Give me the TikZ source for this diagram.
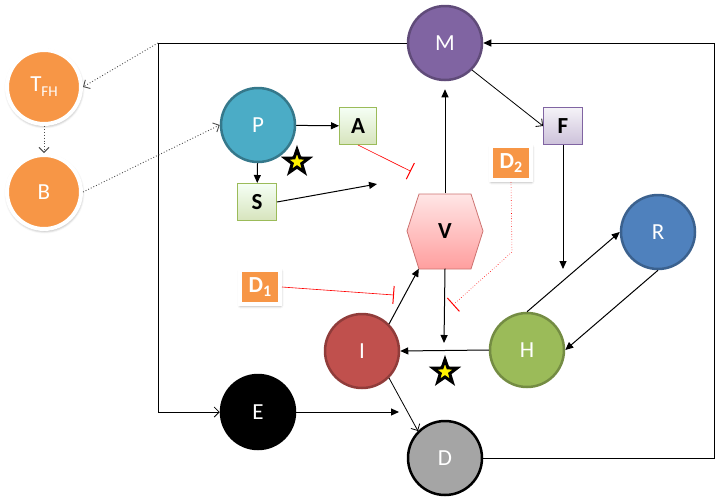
\documentclass[tikz,border=0pt]{standalone}
\usepackage{fontspec}
\setmainfont{Carlito}
\usetikzlibrary{calc,positioning,shapes,arrows.meta,shadows,shadows.blur}

\definecolor{orng}{HTML}{F79646}
\definecolor{tealP}{HTML}{4BACC6}
\definecolor{purpM}{HTML}{8064A2}
\definecolor{blueR}{HTML}{4F81BD}
\definecolor{greenH}{HTML}{9BBB59}
\definecolor{redI}{HTML}{C0504D}
\definecolor{grayD}{HTML}{A5A5A5}

\begin{document}
\begin{tikzpicture}
[x=1pt,y=-1pt,
circ/.style={circle,minimum size=74pt,inner sep=0pt,line width=2.5pt,
	text=white,font=\fontsize{23}{26}\selectfont},
orcirc/.style={circ,fill=orng,draw=white,line width=4pt,
	blur shadow={shadow blur radius=3pt,shadow xshift=0.5pt,shadow yshift=-1.5pt,shadow opacity=50}},
greenbox/.style={rectangle,minimum width=37pt,minimum height=37pt,inner sep=0pt,
	top color=green!4!white,bottom color=greenH!40!white,draw=greenH,line width=1pt,
	font=\bfseries\fontsize{23}{26}\selectfont},
purpbox/.style={greenbox,top color=purpM!8!white,bottom color=purpM!40!white,draw=purpM},
orbox/.style={rectangle,minimum width=40pt,minimum height=34pt,inner sep=0pt,
	fill=orng,draw=white,line width=4pt,text=white,
	font=\bfseries\fontsize{23}{26}\selectfont,
	blur shadow={shadow blur radius=3pt,shadow xshift=0.5pt,shadow yshift=-1.5pt,shadow opacity=50}},
yellowstar/.style={star,star points=5,star point ratio=2.5,fill=yellow,draw=black,
	line width=3pt,minimum size=25pt,inner sep=0pt},
flow/.style={line width=1pt,-{Triangle[length=8pt,width=7pt]}},
openflow/.style={line width=0.8pt,-{Straight Barb[length=5pt,width=10pt]}},
dotflow/.style={dotted,line width=0.9pt,black!70,-{Straight Barb[length=5pt,width=10pt]}},
block/.style={red,line width=0.6pt,-{Bar[width=18pt,line width=1pt]}}]

\useasboundingbox (0,0) rectangle (720,501);

\node[orcirc] (TFH) at (44,87) {T\raisebox{-5pt}{\fontsize{15}{16}\selectfont FH}};
\node[orcirc] (B) at (44,192) {B};

\node[circ,fill=tealP,draw=tealP!70!black] (P) at (258,125) {P};
\node[greenbox] (A) at (358,126) {A};
\node[greenbox,minimum width=39pt] (S) at (257,202) {S};
\node[yellowstar] (star1) at (297,162) {};

\node[circ,fill=purpM,draw=purpM!75!black] (M) at (445,43) {M};
\node[purpbox,minimum width=39pt] (F) at (563,126) {F};
\node[orbox] (D2) at (511,163) {D\raisebox{-4pt}{\fontsize{16}{17}\selectfont 2}};
\node[orbox] (D1) at (260,287) {D\raisebox{-4pt}{\fontsize{16}{17}\selectfont 1}};

\shade[top color=red!10!white,bottom color=red!38!white,draw=redI!80,line width=0.8pt]
	(419,194) -- (471,194) -- (483,231) -- (471,269) -- (419,269) -- (407,231) -- cycle;
\node[minimum width=76pt,minimum height=75pt,inner sep=0pt,
	font=\bfseries\fontsize{23}{26}\selectfont] (V) at (445,231) {V};
\coordinate (Vsw) at ($(V.south west)+(12,0)$);
\coordinate (Vnw) at ($(V.north west)+(4,-22)$);

\node[circ,fill=blueR,draw=blueR!75!black] (R) at (658,232) {R};
\node[circ,fill=greenH,draw=greenH!75!black] (H) at (527,350) {H};
\node[circ,fill=redI,draw=redI!75!black] (I) at (362,351) {I};
\node[circ,fill=black,draw=black] (E) at (258,412) {E};
\node[circ,fill=grayD,draw=black] (D) at (445,458) {D};
\node[yellowstar] (star2) at (445,372) {};

\coordinate (topleft) at (158,43);
\coordinate (topright) at (714,43);
\coordinate (Send) at (377,184);
\coordinate (Fend) at (563,269);
\coordinate (Vend) at (444,343);
\coordinate (Eend) at (399,412);
\coordinate (D2bend) at (512,252);
\coordinate (D2end) at (453,305);
\coordinate (D1end) at (394,295);

\draw[line width=1pt] (M.west) -- (topleft);
\draw[openflow] (topleft) |- (E.west);
\draw[flow] (D.east) -| (topright) -- (M.east);
\draw[dotflow] (topleft) -- (TFH.east);
\draw[dotflow] (TFH) -- (B);
\draw[dotflow] (B.east) -- (P.west);

\draw[flow] (P) -- (A);
\draw[flow] (P) -- (S);
\draw[flow] (S.east) -- (Send);
\draw[block] (A.south) -- (Vnw);

\draw[flow,shorten >=8pt] (V.north) -- (M.south);
\draw[openflow] (M.south east) -- (F.west);
\draw[flow] (F.south) -- (Fend);

\draw[block,dotted] (D2.south) -- (D2bend) -- (D2end);
\draw[block] (D1.east) -- (D1end);

\draw[flow] (V.south) -- (Vend);
\draw[flow] (H.north) -- (R.west);
\draw[flow] (R.south) -- (H.east);
\draw[flow] (H.west) -- (I.east);
\draw[flow] (I.north east) -- (Vsw);
\draw[openflow] (I.south east) -- (D.north west);
\draw[flow] (E.east) -- (Eend);

\end{tikzpicture}
\end{document}
